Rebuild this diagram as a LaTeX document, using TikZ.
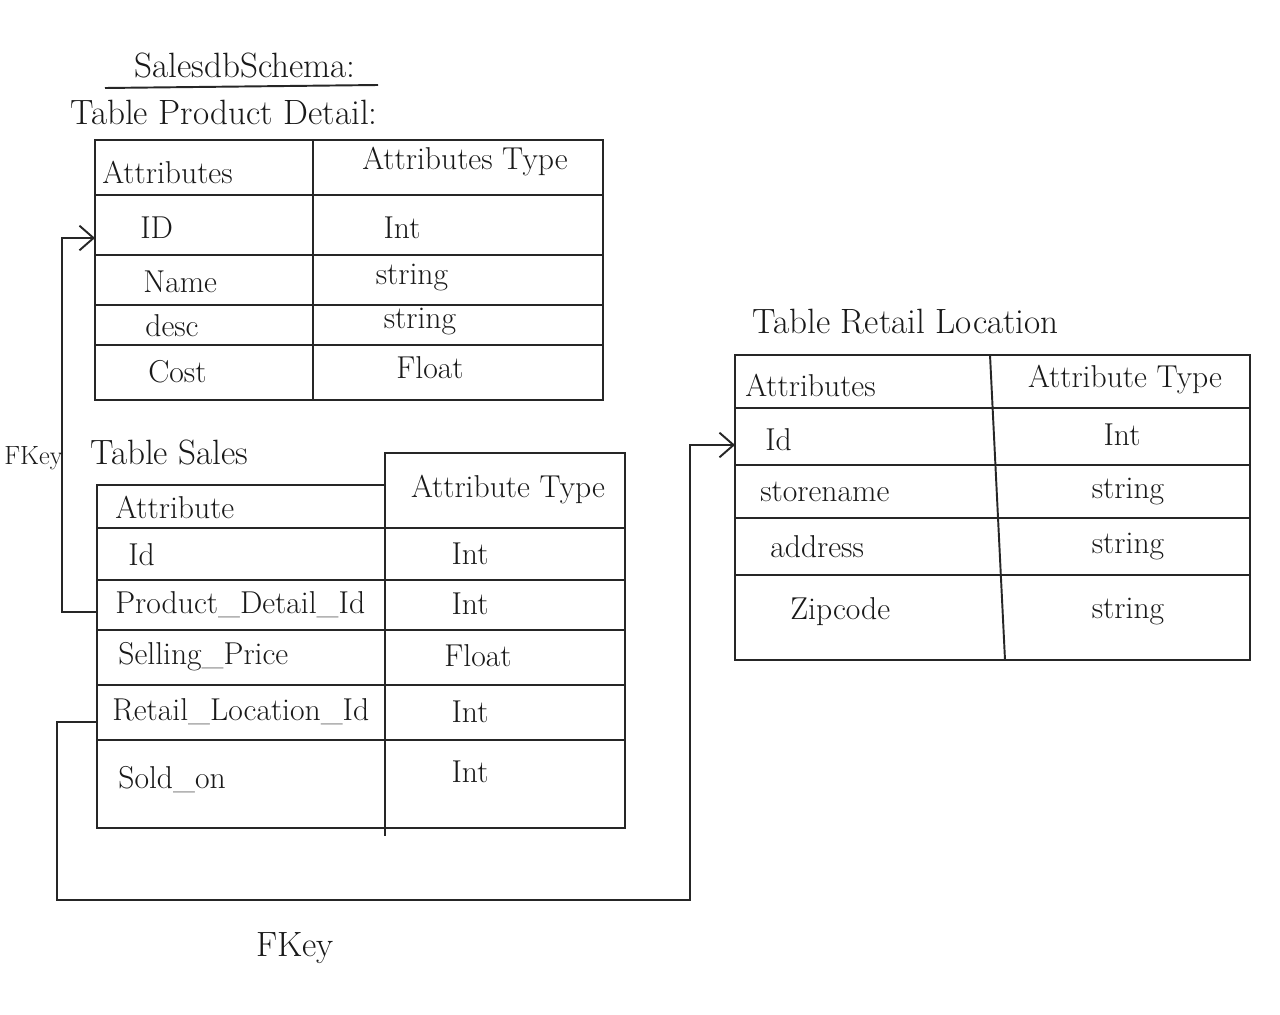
\documentclass[tikz,border=0pt]{standalone}
\usetikzlibrary{arrows.meta}
\begin{document}
\begin{tikzpicture}[x=0.02cm,y=-0.02cm,
  ink/.style={draw=black!85, line width=1.1pt},
  cell/.style={font=\fontsize{18}{20}\selectfont, text=black!90, inner sep=0pt},
  ttl/.style={font=\fontsize{20}{22}\selectfont, text=black!90, inner sep=0pt},
  fk/.style={ink, -{Straight Barb[length=8pt,width=14pt]}}]
\fill[white] (0,0) rectangle (1280,1014);
\useasboundingbox (0,0) rectangle (1280,1014);

% Titles
\node[ttl] (schema) at (245,65) {SalesdbSchema:};
\draw[ink] (105,88) -- (378,85);
\node[ttl, anchor=west] (tpd) at (70,112) {Table Product Detail:};

% Table Product Detail
\draw[ink] (95,140) rectangle (603,400);
\draw[ink] (313,140) -- (313,400);
\foreach \y in {195,255,305,345} \draw[ink] (95,\y) -- (603,\y);
\node[cell, anchor=west] (pdh1) at (102,172) {Attributes};
\node[cell] (pdh2) at (465,162) {Attributes Type};
\node[cell, anchor=west] (pd1) at (140,228) {ID};
\node[cell, anchor=west] (pd2) at (143,282) {Name};
\node[cell, anchor=west] (pd3) at (145,326) {desc};
\node[cell, anchor=west] (pd4) at (148,372) {Cost};
\node[cell] (pdt1) at (402,228) {Int};
\node[cell] (pdt2) at (412,278) {string};
\node[cell] (pdt3) at (420,322) {string};
\node[cell] (pdt4) at (430,368) {Float};

% Table Sales
\node[ttl, anchor=west] (tsales) at (90,452) {Table Sales};
\draw[ink] (97,485) -- (385,485) -- (385,453) -- (625,453) -- (625,828) -- (97,828) -- cycle;
\draw[ink] (385,453) -- (385,836);
\foreach \y in {528,580,630,685,740} \draw[ink] (97,\y) -- (625,\y);
\node[cell, anchor=west] (sh1) at (115,507) {Attribute};
\node[cell] (sh2) at (508,490) {Attribute Type};
\node[cell, anchor=west] (s1) at (128,555) {Id};
\node[cell, anchor=west] (s2) at (115,605) {Product\_Detail\_Id};
\node[cell, anchor=west] (s3) at (118,657) {Selling\_Price};
\node[cell, anchor=west] (s4) at (112,712) {Retail\_Location\_Id};
\node[cell, anchor=west] (s5) at (118,780) {Sold\_on};
\node[cell] (st1) at (470,554) {Int};
\node[cell] (st2) at (470,604) {Int};
\node[cell] (st3) at (478,656) {Float};
\node[cell] (st4) at (470,712) {Int};
\node[cell] (st5) at (470,772) {Int};

% Table Retail Location
\node[ttl, anchor=west] (tret) at (752,322) {Table Retail Location};
\draw[ink] (735,355) rectangle (1250,660);
\draw[ink] (990,355) -- (1005,660);
\foreach \y in {408,465,518,575} \draw[ink] (735,\y) -- (1250,\y);
\node[cell, anchor=west] (rh1) at (745,385) {Attributes};
\node[cell] (rh2) at (1125,380) {Attribute Type};
\node[cell, anchor=west] (r1) at (765,440) {Id};
\node[cell, anchor=west] (r2) at (760,492) {storename};
\node[cell, anchor=west] (r3) at (770,547) {address};
\node[cell, anchor=west] (r4) at (790,612) {Zipcode};
\node[cell] (rt1) at (1122,435) {Int};
\node[cell] (rt2) at (1128,492) {string};
\node[cell] (rt3) at (1128,547) {string};
\node[cell] (rt4) at (1128,612) {string};

% Foreign keys
\coordinate (sPD) at (97,612);
\coordinate (pdID) at (95,238);
\coordinate (sRL) at (97,722);
\coordinate (rlID) at (735,445);
\draw[fk] (sPD) -- ++(-35,0) |- (pdID);
\draw[fk] (sRL) -- ++(-40,0) |- (690,900) |- (rlID);
\node[cell, font=\fontsize{15}{17}\selectfont, anchor=west] (fk1) at (4,458) {FKey};
\node[ttl] (fk2) at (295,948) {FKey};
\end{tikzpicture}
\end{document}
